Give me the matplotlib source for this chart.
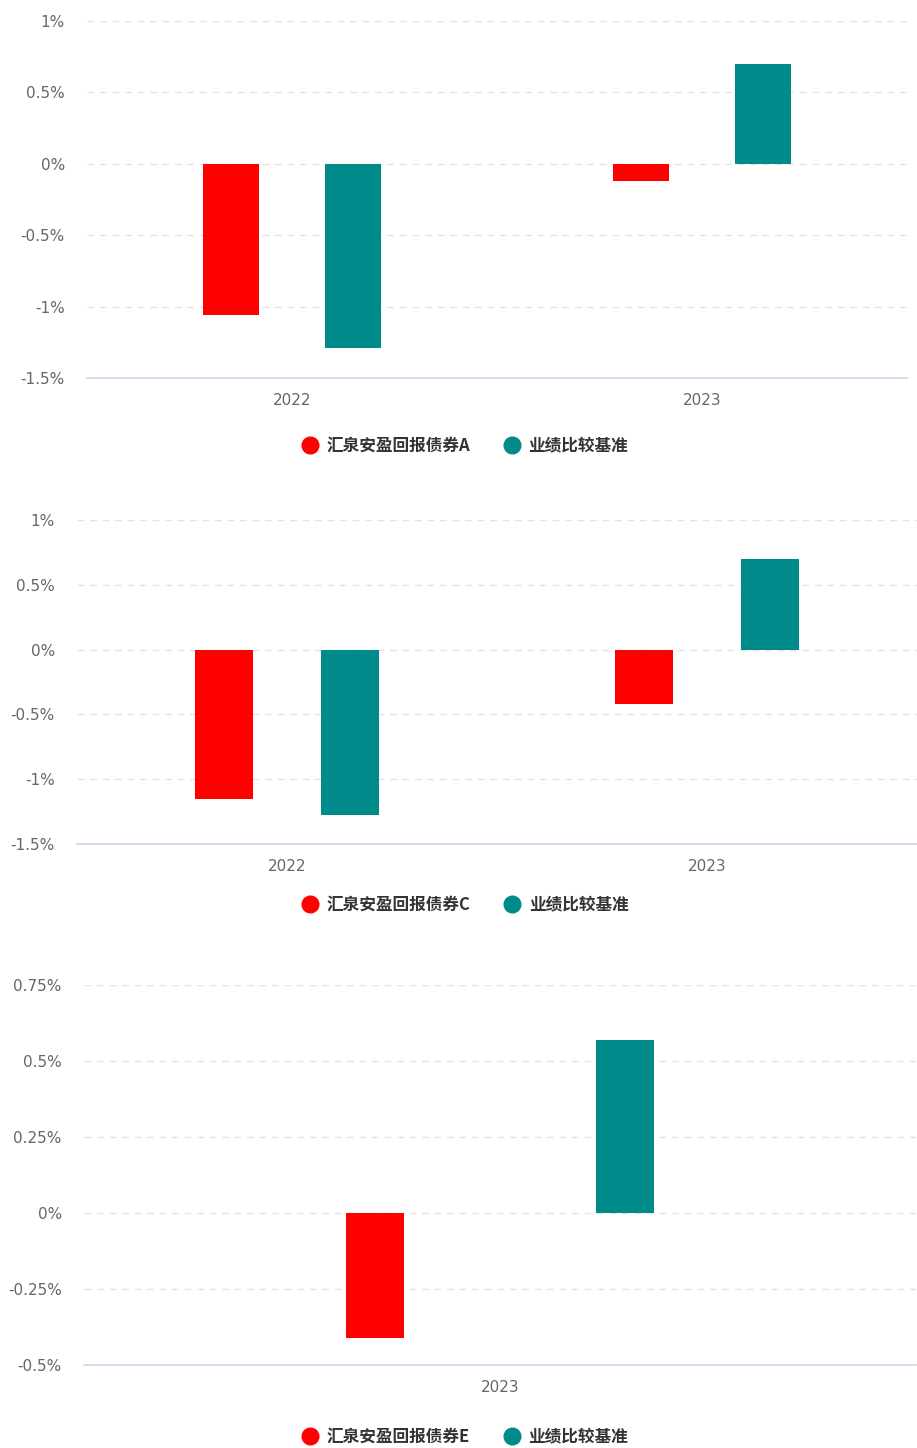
import matplotlib
matplotlib.use('Agg')
import matplotlib.pyplot as plt
from matplotlib.lines import Line2D
from matplotlib.ticker import FuncFormatter
import numpy as np

plt.rcParams['font.family'] = ['DejaVu Sans', 'Noto Sans CJK SC']

# data (yearly returns, %)
years_ac = ['2022', '2023']
fund_a = [-1.06, -0.12]
bench_a = [-1.29, 0.70]
fund_c = [-1.15, -0.42]
bench_c = [-1.28, 0.70]
years_e = ['2023']
fund_e = [-0.41]
bench_e = [0.57]

fund_names = ['汇泉安盈回报债券A', '汇泉安盈回报债券C', '汇泉安盈回报债券E']
bench_name = '业绩比较基准'

RED = '#ff0000'
TEAL = '#008b8a'
W, H = 917, 1448

fig = plt.figure(figsize=(W / 100, H / 100), dpi=100)


def px_axes(left, right, top, bottom):
    return fig.add_axes([left / W, 1 - bottom / H, (right - left) / W, (bottom - top) / H])


def draw_panel(ax, cats, fund, bench, ticks, bar_w, offset):
    x = np.arange(len(cats))
    ax.bar(x - offset, fund, width=bar_w, color=RED, zorder=3)
    ax.bar(x + offset, bench, width=bar_w, color=TEAL, zorder=3)
    ax.set_xlim(-0.5, len(cats) - 0.5)
    ax.set_ylim(ticks[0], ticks[-1])
    ax.set_yticks(ticks)
    ax.yaxis.set_major_formatter(FuncFormatter(lambda v, p: f'{v:g}%'))
    ax.set_xticks(x)
    ax.set_xticklabels(cats)
    for s in ['top', 'right', 'left']:
        ax.spines[s].set_visible(False)
    ax.spines['bottom'].set_color('#ccd6eb')
    ax.spines['bottom'].set_linewidth(1.2)
    ax.yaxis.grid(True, color='#e3e3e3', linestyle=(0, (5, 4)), linewidth=1)
    ax.set_axisbelow(True)
    ax.tick_params(axis='y', length=0, pad=16, labelsize=11, labelcolor='#666666')
    ax.tick_params(axis='x', length=0, pad=11, labelsize=11, labelcolor='#666666')


def add_legend(fund_label, y_px):
    handles = [
        Line2D([], [], marker='o', linestyle='none', markersize=12, color=RED),
        Line2D([], [], marker='o', linestyle='none', markersize=12, color=TEAL),
    ]
    fig.legend(handles, [fund_label, bench_name], loc='center',
               bbox_to_anchor=(465 / W, 1 - y_px / H), ncol=2, frameon=False,
               handletextpad=0.5, columnspacing=2.0, handlelength=1.0,
               prop={'family': ['Noto Sans CJK SC', 'DejaVu Sans'], 'size': 12,
                     'weight': 'bold'},
               labelcolor='#333333')


ax1 = px_axes(87, 907, 21, 378)
draw_panel(ax1, years_ac, fund_a, bench_a, [-1.5, -1, -0.5, 0, 0.5, 1], 0.137, 0.149)
add_legend(fund_names[0], 446)

ax2 = px_axes(77, 917, 520, 844)
draw_panel(ax2, years_ac, fund_c, bench_c, [-1.5, -1, -0.5, 0, 0.5, 1], 0.136, 0.15)
add_legend(fund_names[1], 905)

ax3 = px_axes(84, 916, 985, 1365)
draw_panel(ax3, years_e, fund_e, bench_e, [-0.5, -0.25, 0, 0.25, 0.5, 0.75], 0.069, 0.15)
add_legend(fund_names[2], 1437)

fig.savefig('out.png', dpi=100)
